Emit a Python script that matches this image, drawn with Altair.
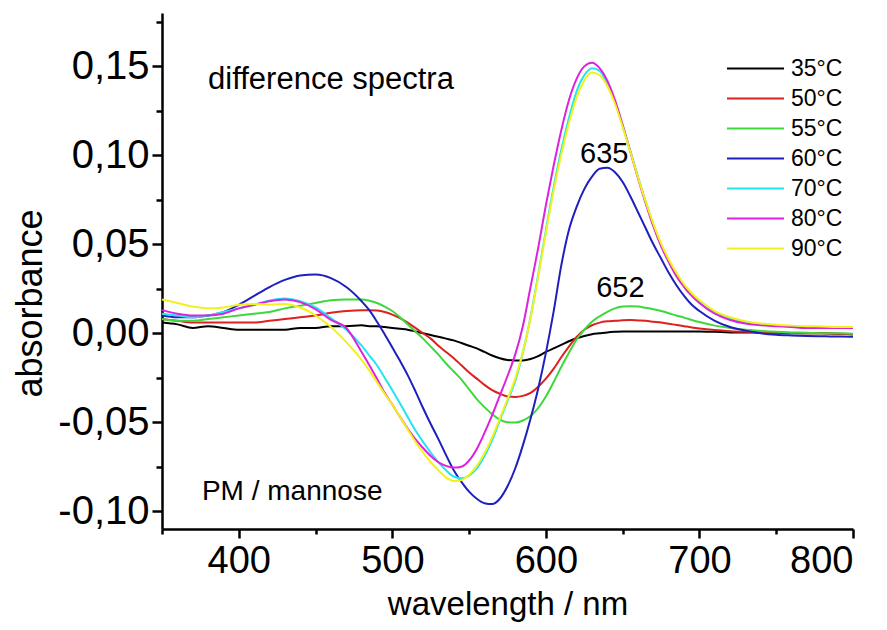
import altair as alt
import pandas as pd

WAVELENGTH = [350, 360, 370, 380, 390, 400, 410, 420, 430, 440, 450, 460, 470, 480,
              485, 490, 495, 500, 505, 510, 515, 520, 525, 530, 535, 540, 545, 550,
              555, 560, 565, 570, 575, 580, 585, 590, 595, 600, 605, 610, 615, 620,
              625, 630, 635, 640, 645, 650, 655, 660, 665, 670, 675, 680, 685, 690,
              695, 700, 710, 720, 730, 740, 750, 760, 770, 780, 790, 800]

T35 = [0.006, 0.005, 0.003, 0.004, 0.003, 0.002, 0.002, 0.002, 0.002, 0.003, 0.003, 0.004, 0.004, 0.0045,
       0.004, 0.004, 0.0035, 0.003, 0.0025, 0.002, 0.001, 0.0, -0.001, -0.002, -0.003, -0.004, -0.0055, -0.007,
       -0.0085, -0.0105, -0.0125, -0.014, -0.015, -0.0153, -0.0153, -0.0145, -0.0128, -0.0105, -0.0085, -0.0065, -0.0045, -0.0028,
       -0.0015, -0.0005, 0.0, 0.0005, 0.0008, 0.001, 0.001, 0.001, 0.001, 0.001, 0.001, 0.001, 0.001, 0.001,
       0.001, 0.001, 0.0008, 0.0005, 0.0005, 0.0003, 0.0003, 0.0, 0.0, 0.0, -0.0003, -0.0005]

T50 = [0.008, 0.007, 0.006, 0.006, 0.006, 0.006, 0.006, 0.007, 0.008, 0.009, 0.010, 0.0115, 0.0125, 0.013,
       0.013, 0.0128, 0.012, 0.0105, 0.0085, 0.006, 0.003, 0.0, -0.003, -0.007, -0.0105, -0.014, -0.018, -0.022,
       -0.0255, -0.029, -0.032, -0.034, -0.0355, -0.0358, -0.0352, -0.0335, -0.030, -0.0255, -0.020, -0.0135, -0.0075, -0.002,
       0.002, 0.0045, 0.006, 0.0067, 0.007, 0.0073, 0.0074, 0.0072, 0.007, 0.0065, 0.006, 0.0053, 0.0047, 0.004,
       0.0033, 0.0027, 0.0018, 0.0012, 0.0008, 0.0005, 0.0003, 0.0002, 0.0, 0.0, -0.0003, -0.0005]

T55 = [0.008, 0.007, 0.007, 0.008, 0.009, 0.010, 0.011, 0.012, 0.014, 0.0155, 0.017, 0.0185, 0.019, 0.019,
       0.0183, 0.017, 0.015, 0.0125, 0.009, 0.005, 0.001, -0.003, -0.0075, -0.012, -0.017, -0.0215, -0.026, -0.0315,
       -0.037, -0.0415, -0.0455, -0.0485, -0.050, -0.0502, -0.049, -0.0465, -0.042, -0.0355, -0.0275, -0.019, -0.011, -0.0035,
       0.002, 0.0065, 0.0095, 0.012, 0.014, 0.015, 0.0152, 0.015, 0.0143, 0.0135, 0.0125, 0.0113, 0.010, 0.0088,
       0.0075, 0.0063, 0.0043, 0.003, 0.002, 0.0013, 0.0008, 0.0005, 0.0003, 0.0, 0.0, -0.0002]

T60 = [0.010, 0.009, 0.009, 0.010, 0.012, 0.016, 0.021, 0.026, 0.030, 0.0325, 0.033, 0.031, 0.026, 0.018,
       0.013, 0.0065, -0.0005, -0.008, -0.0155, -0.0235, -0.0325, -0.042, -0.051, -0.0595, -0.0685, -0.077, -0.0835, -0.089,
       -0.093, -0.0955, -0.096, -0.093, -0.086, -0.076, -0.063, -0.048, -0.031, -0.011, 0.012, 0.038, 0.058, 0.071,
       0.081, 0.088, 0.0925, 0.093, 0.0905, 0.085, 0.077, 0.068, 0.059, 0.050, 0.042, 0.034, 0.027, 0.021,
       0.016, 0.0125, 0.007, 0.0035, 0.0015, 0.0, -0.0008, -0.0012, -0.0015, -0.0017, -0.0018, -0.002]

T70 = [0.011, 0.010, 0.009, 0.010, 0.012, 0.014, 0.016, 0.0185, 0.0195, 0.018, 0.0145, 0.0085, 0.002, -0.007,
       -0.0125, -0.018, -0.025, -0.032, -0.0395, -0.047, -0.0545, -0.061, -0.067, -0.0725, -0.077, -0.0805, -0.0815, -0.080,
       -0.076, -0.069, -0.060, -0.049, -0.038, -0.027, -0.011, 0.009, 0.033, 0.058, 0.082, 0.103, 0.121, 0.136,
       0.145, 0.149, 0.1475, 0.140, 0.130, 0.117, 0.1025, 0.088, 0.074, 0.061, 0.050, 0.041, 0.033, 0.027,
       0.022, 0.018, 0.012, 0.008, 0.006, 0.0048, 0.0042, 0.0037, 0.0033, 0.003, 0.003, 0.003]

T80 = [0.013, 0.011, 0.010, 0.010, 0.011, 0.014, 0.016, 0.018, 0.019, 0.0175, 0.0135, 0.0075, 0.003, -0.0105,
       -0.018, -0.0255, -0.0335, -0.040, -0.047, -0.0535, -0.0595, -0.0645, -0.069, -0.0725, -0.0745, -0.0755, -0.075, -0.0715,
       -0.065, -0.056, -0.046, -0.035, -0.024, -0.012, 0.004, 0.026, 0.048, 0.072, 0.094, 0.114, 0.131, 0.143,
       0.150, 0.152, 0.149, 0.142, 0.131, 0.117, 0.102, 0.087, 0.073, 0.060, 0.049, 0.040, 0.032, 0.026,
       0.021, 0.017, 0.011, 0.0075, 0.0055, 0.0045, 0.004, 0.0035, 0.003, 0.003, 0.003, 0.003]

T90 = [0.019, 0.017, 0.015, 0.014, 0.0145, 0.016, 0.0165, 0.016, 0.0165, 0.0145, 0.010, 0.0035, -0.005, -0.015,
       -0.021, -0.0275, -0.034, -0.040, -0.047, -0.054, -0.061, -0.067, -0.0725, -0.077, -0.081, -0.083, -0.0825, -0.0795,
       -0.0745, -0.0675, -0.0585, -0.048, -0.037, -0.0255, -0.0105, 0.0085, 0.032, 0.0565, 0.080, 0.1005, 0.118, 0.1325,
       0.142, 0.1465, 0.145, 0.139, 0.129, 0.116, 0.102, 0.0875, 0.074, 0.0615, 0.0505, 0.0415, 0.034, 0.0275,
       0.0225, 0.0185, 0.0125, 0.009, 0.0068, 0.0055, 0.0048, 0.0043, 0.004, 0.0038, 0.0035, 0.0035]

SERIES = ["35°C", "50°C", "55°C", "60°C", "70°C", "80°C", "90°C"]
VALUES = [T35, T50, T55, T60, T70, T80, T90]
COLORS = ["#000000", "#dd2020", "#3cd83c", "#1f1fbf", "#22e5f0", "#dd22dd", "#f2f21a"]

X_MAJOR = [400, 500, 600, 700, 800]
X_MINOR = [350, 450, 550, 650, 750]
Y_MAJOR = [-0.10, -0.05, 0.0, 0.05, 0.10, 0.15]
Y_MINOR = [-0.075, -0.025, 0.025, 0.075, 0.125, 0.175]

NOTE_TEXT = ["difference spectra", "PM / mannose"]
NOTE_X = [380, 376]
NOTE_Y = [0.1425, -0.0894]
NOTE_SIZE = [31, 28]
PEAK_TEXT = ["635", "652"]
PEAK_X = [638, 648.5]
PEAK_Y = [0.1006, 0.0257]

FONT = "Liberation Sans"

rows = []
for name, vals in zip(SERIES, VALUES):
    for w, v in zip(WAVELENGTH, vals):
        rows.append({"wavelength": w, "absorbance": v, "T": name})
df = pd.DataFrame(rows)

xs = alt.Scale(domain=[350, 800], nice=False, zero=False)
ys = alt.Scale(domain=[-0.11, 0.18], nice=False, zero=False)

label_expr = "replace(replace(format(datum.value, '.2f'), '.', ','), '\u2212', '-')"

lines = alt.Chart(df).mark_line(strokeWidth=2, interpolate="monotone").encode(
    x=alt.X("wavelength:Q", scale=xs,
            axis=alt.Axis(values=X_MAJOR, title="wavelength / nm", orient="bottom",
                          labelFontSize=38, titleFontSize=33, titleFontWeight="normal",
                          labelFont=FONT, titleFont=FONT, tickSize=9, tickWidth=2.5,
                          domainWidth=2.5, domainColor="black", tickColor="black",
                          labelColor="black", titleColor="black", labelPadding=4,
                          grid=False, titleY=75, titleBaseline="middle")),
    y=alt.Y("absorbance:Q", scale=ys,
            axis=alt.Axis(values=Y_MAJOR, title="absorbance", orient="left",
                          labelExpr=label_expr, labelFontSize=40, titleFontSize=36,
                          titleFontWeight="normal", labelFont=FONT, titleFont=FONT,
                          tickSize=10, tickWidth=2.5, domainWidth=2.5, domainColor="black",
                          tickColor="black", labelColor="black", titleColor="black",
                          labelPadding=3, grid=False, titleX=-132, titleY=290,
                          titleBaseline="middle")),
    color=alt.Color("T:N", scale=alt.Scale(domain=SERIES, range=COLORS), sort=SERIES,
                    legend=alt.Legend(orient="none", legendX=601, legendY=44, title=None,
                                      symbolType="M-5,0H1", symbolSize=361,
                                      symbolStrokeWidth=2, labelFontSize=23, labelFont=FONT,
                                      labelColor="black", rowPadding=6, padding=0,
                                      labelOffset=5, labelLimit=0)),
)

minor = alt.Chart(df).mark_line(opacity=0).encode(
    x=alt.X("wavelength:Q", scale=xs,
            axis=alt.Axis(values=X_MINOR, labels=False, title=None, orient="bottom",
                          tickSize=5, tickWidth=2.5, tickColor="black", domain=False, grid=False)),
    y=alt.Y("absorbance:Q", scale=ys,
            axis=alt.Axis(values=Y_MINOR, labels=False, title=None, orient="left",
                          tickSize=6, tickWidth=2.5, tickColor="black", domain=False, grid=False)),
    detail="T:N",
)

notes_df = pd.DataFrame({"text": NOTE_TEXT, "x": NOTE_X, "y": NOTE_Y, "size": NOTE_SIZE})
notes = alt.Chart(notes_df).mark_text(align="left", baseline="middle",
                                      font=FONT, color="black").encode(
    x=alt.X("x:Q", scale=xs, axis=None), y=alt.Y("y:Q", scale=ys, axis=None),
    text="text:N", size=alt.Size("size:Q", scale=None, legend=None))

peaks_df = pd.DataFrame({"text": PEAK_TEXT, "x": PEAK_X, "y": PEAK_Y})
peaks = alt.Chart(peaks_df).mark_text(align="center", baseline="middle", fontSize=29,
                                      font=FONT, color="black").encode(
    x=alt.X("x:Q", scale=xs, axis=None), y=alt.Y("y:Q", scale=ys, axis=None), text="text:N")

chart = alt.layer(lines, notes, peaks, minor).resolve_scale(
    x="independent", y="independent"
).properties(
    width=691, height=516,
    autosize=alt.AutoSizeParams(type="none"),
    padding={"left": 154, "top": 5, "right": 26, "bottom": 94},
).configure_view(stroke=None)

chart.save("out.html", embed_options={"renderer": "svg", "actions": False})
